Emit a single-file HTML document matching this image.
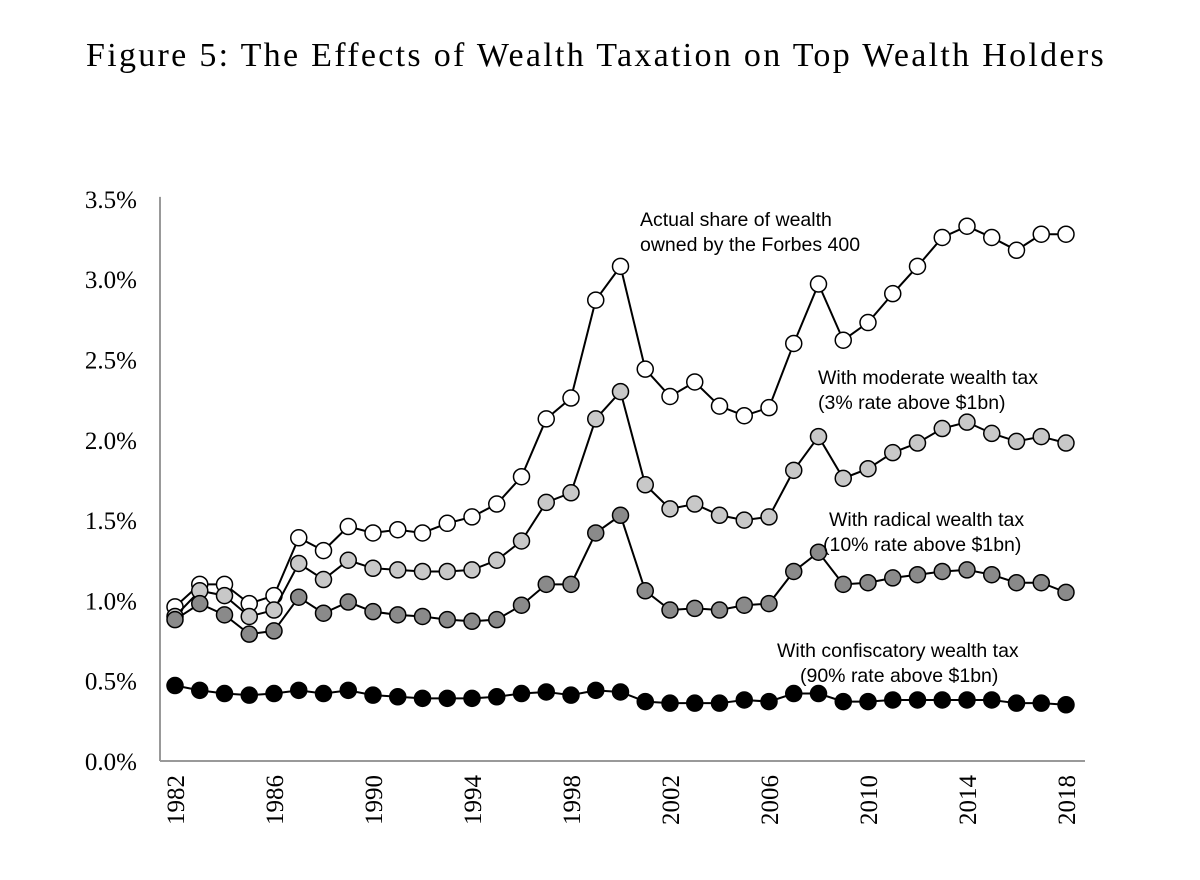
<!DOCTYPE html>
<html><head><meta charset="utf-8"><style>
body{margin:0;background:#fff;width:1200px;height:875px;overflow:hidden}
svg text{font-family:"Liberation Serif",serif}
.ann{font-family:"Liberation Sans",sans-serif;font-size:19.5px}
</style></head><body>
<svg id="c" width="1200" height="875">
<text x="596" y="66" text-anchor="middle" font-size="34" letter-spacing="2.3">Figure 5: The Effects of Wealth Taxation on Top Wealth Holders</text>
<g id="axes"></g><g id="series"></g>
<text class="ann" x="640" y="226"><tspan x="640">Actual share of wealth</tspan><tspan x="640" dy="25">owned by the Forbes 400</tspan></text>
<text class="ann" x="818" y="384"><tspan x="818">With moderate wealth tax</tspan><tspan x="818" dy="25">(3% rate above $1bn)</tspan></text>
<text class="ann" x="829" y="526"><tspan x="829">With radical wealth tax</tspan><tspan x="823" dy="25">(10% rate above $1bn)</tspan></text>
<text class="ann" x="777" y="657"><tspan x="777">With confiscatory wealth tax</tspan><tspan x="800" dy="25">(90% rate above $1bn)</tspan></text>
</svg>
<script>
const years=[];for(let y=1982;y<=2018;y++)years.push(y);
const actual=[0.96,1.10,1.10,0.98,1.03,1.39,1.31,1.46,1.42,1.44,1.42,1.48,1.52,1.60,1.77,2.13,2.26,2.87,3.08,2.44,2.27,2.36,2.21,2.15,2.20,2.60,2.97,2.62,2.73,2.91,3.08,3.26,3.33,3.26,3.18,3.28,3.28];
const moderate=[0.90,1.06,1.03,0.90,0.94,1.23,1.13,1.25,1.20,1.19,1.18,1.18,1.19,1.25,1.37,1.61,1.67,2.13,2.30,1.72,1.57,1.60,1.53,1.50,1.52,1.81,2.02,1.76,1.82,1.92,1.98,2.07,2.11,2.04,1.99,2.02,1.98];
const radical=[0.88,0.98,0.91,0.79,0.81,1.02,0.92,0.99,0.93,0.91,0.90,0.88,0.87,0.88,0.97,1.10,1.10,1.42,1.53,1.06,0.94,0.95,0.94,0.97,0.98,1.18,1.30,1.10,1.11,1.14,1.16,1.18,1.19,1.16,1.11,1.11,1.05];
const confiscatory=[0.47,0.44,0.42,0.41,0.42,0.44,0.42,0.44,0.41,0.40,0.39,0.39,0.39,0.40,0.42,0.43,0.41,0.44,0.43,0.37,0.36,0.36,0.36,0.38,0.37,0.42,0.42,0.37,0.37,0.38,0.38,0.38,0.38,0.38,0.36,0.36,0.35];
const yTicks=[0,0.5,1,1.5,2,2.5,3,3.5];
const yTickLabels=["0.0%","0.5%","1.0%","1.5%","2.0%","2.5%","3.0%","3.5%"];
const xTickYears=[1982,1986,1990,1994,1998,2002,2006,2010,2014,2018];
const NS="http://www.w3.org/2000/svg";
const X=v=>175+(v-1982)*24.75, Y=v=>761-v*160.6;
function mk(tag,at,parent){const e=document.createElementNS(NS,tag);for(const k in at)e.setAttribute(k,at[k]);parent.appendChild(e);return e;}
const ax=document.getElementById('axes'),sr=document.getElementById('series');
let l=mk('line',{x1:160,y1:Y(3.5)-2,x2:160,y2:Y(0),stroke:'#999','stroke-width':2},ax);


l=mk('line',{x1:160,y1:Y(0),x2:1085,y2:Y(0),stroke:'#999','stroke-width':2},ax);


yTicks.forEach((v,i)=>{const t=mk('text',{x:137,y:Y(v)+9,'text-anchor':'end','font-size':25},ax);t.textContent=yTickLabels[i];

});
xTickYears.forEach(yr=>{const t=mk('text',{x:0,y:0,'text-anchor':'end','font-size':25,transform:`translate(${X(yr)+9},${Y(0)+14}) rotate(-90)`},ax);t.textContent=yr;

});
const S=[[actual,'#fff','actual'],[moderate,'#c8c8c8','moderate'],[radical,'#8a8a8a','radical'],[confiscatory,'#000','confiscatory']];
S.forEach(([d,fill,name])=>{const g=mk('g',{},sr);


const p=mk('polyline',{points:d.map((v,i)=>X(years[i])+','+Y(v)).join(' '),fill:'none',stroke:'#000','stroke-width':2},g);


d.forEach((v,i)=>{const c=mk('circle',{cx:X(years[i]),cy:Y(v),r:8,fill:fill,stroke:'#000','stroke-width':1.5},g);

});});
</script>
</body></html>
